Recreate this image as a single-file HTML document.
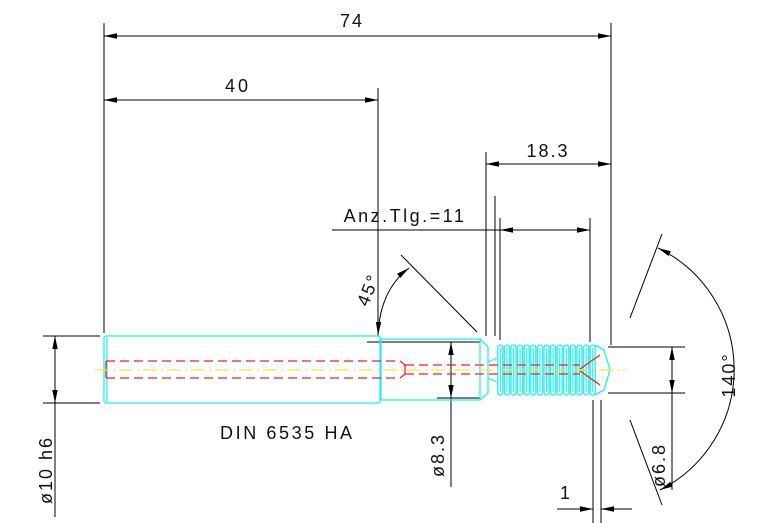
<!DOCTYPE html>
<html><head><style>html,body{margin:0;padding:0;background:#fff}svg{display:block}text{font-family:"Liberation Sans",sans-serif;fill:#111}</style></head>
<body>
<svg width="767" height="523" viewBox="0 0 767 523" xmlns="http://www.w3.org/2000/svg">
<defs>
<marker id="a" viewBox="0 0 12 6" refX="12" refY="3" markerWidth="13" markerHeight="7" orient="auto-start-reverse" markerUnits="userSpaceOnUse"><path d="M0,0.5 L12,3 L0,5.5z" fill="#000"/></marker>
<pattern id="th" x="497" y="0" width="6.6" height="523" patternUnits="userSpaceOnUse">
<rect x="0.8" y="345" width="5" height="50" rx="2.5" fill="none" stroke="#2ee" stroke-width="1.3"/>
<line x1="3.3" y1="348" x2="3.3" y2="392" stroke="#2ee" stroke-width="1.2"/>
</pattern>
</defs>
<g stroke="#000" stroke-width="1" fill="none">
<line x1="104" y1="23" x2="104" y2="333"/>
<line x1="611" y1="23" x2="611" y2="345"/>
<line x1="378" y1="88" x2="378" y2="336"/>
<line x1="486" y1="152" x2="486" y2="336"/>
<line x1="495" y1="196" x2="495" y2="336"/>
<line x1="500" y1="218" x2="500" y2="340"/>
<line x1="590" y1="218" x2="590" y2="342"/>
<line x1="104" y1="36" x2="611" y2="36" marker-start="url(#a)" marker-end="url(#a)"/>
<line x1="104" y1="100" x2="378" y2="100" marker-start="url(#a)" marker-end="url(#a)"/>
<line x1="486" y1="164" x2="611" y2="164" marker-start="url(#a)" marker-end="url(#a)"/>
<line x1="332" y1="230" x2="500" y2="230"/>
<line x1="500" y1="230" x2="590" y2="230" marker-start="url(#a)" marker-end="url(#a)"/>
<line x1="401" y1="255" x2="477" y2="332"/>
<path d="M378,335 Q380,290 409,268" marker-start="url(#a)" marker-end="url(#a)"/>
<line x1="43" y1="336" x2="100" y2="336"/>
<line x1="43" y1="403" x2="100" y2="403"/>
<line x1="55" y1="336" x2="55" y2="403" marker-start="url(#a)" marker-end="url(#a)"/>
<line x1="55" y1="403" x2="55" y2="517"/>
<line x1="367" y1="342" x2="480" y2="342" stroke="#555" stroke-width="1.5"/>
<line x1="437" y1="398" x2="480" y2="398" stroke="#555" stroke-width="1.5"/>
<line x1="451" y1="342" x2="451" y2="398" marker-start="url(#a)" marker-end="url(#a)"/>
<line x1="451" y1="398" x2="451" y2="487"/>
<line x1="608" y1="347" x2="685" y2="347"/>
<line x1="608" y1="393" x2="685" y2="393"/>
<line x1="672" y1="347" x2="672" y2="393" marker-start="url(#a)" marker-end="url(#a)"/>
<line x1="672" y1="393" x2="672" y2="490"/>
<line x1="662" y1="234" x2="630" y2="318"/>
<line x1="630" y1="420" x2="662" y2="505"/>
<path d="M658,248 A135,135 0 0 1 660,490" marker-start="url(#a)" marker-end="url(#a)"/>
<line x1="593" y1="400" x2="593" y2="523"/>
<line x1="601" y1="400" x2="601" y2="523"/>
<line x1="557" y1="509" x2="593" y2="509" marker-end="url(#a)"/>
<line x1="632" y1="509" x2="601" y2="509" marker-end="url(#a)"/>
</g>
<g fill="none" stroke="#2ee" stroke-width="1.3">
<rect x="104" y="336" width="276" height="67" rx="2"/>
<line x1="107" y1="337" x2="107" y2="402"/>
<rect x="381" y="339" width="99" height="61"/>
<path d="M480,339 L488,347 L488,393 L480,400"/>
<path d="M595,345 L604,350 L610,370 L604,390 L595,395"/>
</g>
<rect x="497" y="340" width="99" height="60" fill="url(#th)"/>
<path d="M488,362 L497,358 M488,378 L497,382" stroke="#2ee" fill="none"/>
<g stroke="#e22" stroke-width="1.3" fill="none" stroke-dasharray="9,5">
<line x1="106" y1="361" x2="400" y2="361"/>
<line x1="106" y1="378" x2="400" y2="378"/>
<line x1="405" y1="365" x2="580" y2="365"/>
<line x1="405" y1="374" x2="580" y2="374"/>
</g>
<path d="M106,361 V378 M400,361 L405,365 V374 L400,378 M580,369 L600,355 M580,371 L600,385" stroke="#e22" stroke-width="1.3" fill="none"/>
<line x1="95" y1="370" x2="625" y2="370" stroke="#ee3" stroke-width="1.3" stroke-dasharray="14,4,2,4"/>
<text x="352" y="27" font-size="18" text-anchor="middle" letter-spacing="2">74</text>
<text x="238" y="92" font-size="18" text-anchor="middle" letter-spacing="3">40</text>
<text x="548" y="157" font-size="18" text-anchor="middle" letter-spacing="2">18.3</text>
<text x="405" y="222" font-size="18" text-anchor="middle" letter-spacing="2.5">Anz.Tlg.=11</text>
<text x="220" y="439" font-size="18" letter-spacing="2.6">DIN 6535 HA</text>
<text transform="translate(374,292) rotate(-68)" font-size="18" text-anchor="middle" letter-spacing="2">45°</text>
<text transform="translate(52,470) rotate(-90)" font-size="18" text-anchor="middle" letter-spacing="2">ø10 h6</text>
<text transform="translate(444,455) rotate(-90)" font-size="18" text-anchor="middle" letter-spacing="2">ø8.3</text>
<text transform="translate(665,465) rotate(-90)" font-size="18" text-anchor="middle" letter-spacing="2">ø6.8</text>
<text transform="translate(735,375) rotate(-90)" font-size="18" text-anchor="middle" letter-spacing="2">140°</text>
<text x="565" y="499" font-size="18" text-anchor="middle">1</text>
</svg>
</body></html>
